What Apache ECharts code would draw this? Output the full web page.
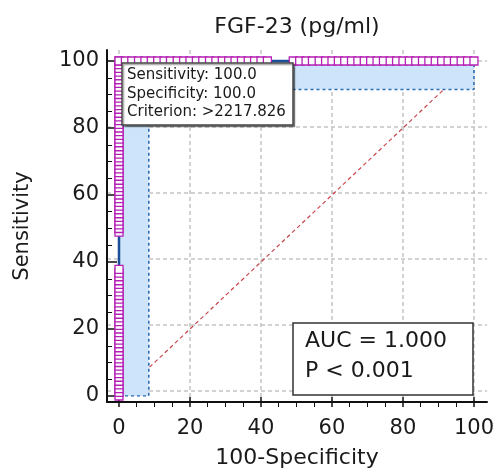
<!DOCTYPE html>
<html>
<head>
<meta charset="utf-8">
<script src="https://cdn.jsdelivr.net/npm/echarts@6/dist/echarts.min.js"></script>
<style>html,body{margin:0;padding:0;background:#fff}#c{width:497px;height:474px}</style>
</head>
<body>
<div id="c"></div>
<script>
// ROC points: sensitivity values at 100-Specificity = 0
const sensLow = [0,1.1,2.2,3.3,4.4,5.6,6.7,7.8,8.9,10,11.1,12.2,13.3,14.4,15.6,16.7,17.8,18.9,20,21.1,22.2,23.3,24.4,25.6,26.7,27.8,28.9,30,31.1,32.2,33.3,34.4,35.6,36.7,37.8];
const sensHigh = [48.9,50,51.1,52.2,53.3,54.4,55.6,56.7,57.8,58.9,60,61.1,62.2,63.3,64.4,65.6,66.7,67.8,68.9,70,71.1,72.2,73.3,74.4,75.6,76.7,77.8,78.9,80,81.1,82.2,83.3,84.4,85.6,86.7,87.8,88.9,90,91.1,92.2,93.3,94.4,95.6,96.7,97.8,98.9,100];
// ROC points: 100-Specificity values at sensitivity = 100
const fprLow = [0,1.8,3.6,5.5,7.3,9.1,10.9,12.7,14.5,16.4,18.2,20,21.8,23.6,25.5,27.3,29.1,30.9,32.7,34.5,36.4,38.2,40,41.8];
const fprHigh = [49.1,50.9,52.7,54.5,56.4,58.2,60,61.8,63.6,65.5,67.3,69.1,70.9,72.7,74.5,76.4,78.2,80,81.8,83.6,85.5,87.3,89.1,90.9,92.7,94.5,96.4,98.2,100];
// confidence bounds
const ciLowerX = [0, 8.4, 8.4, 100, 100];
const ciLowerY = [0, 0, 91.5, 91.5, 100];
const ciUpperX = [0, 0, 100];
const ciUpperY = [0, 100, 100];
// reference diagonal
const refX = [0, 100];
const refY = [0, 100];
// ticks
const majorTicks = [0, 20, 40, 60, 80, 100];
const titleText = 'FGF-23 (pg/ml)';
const xName = '100-Specificity';
const yName = 'Sensitivity';
const infoLines = ['Sensitivity: 100.0', 'Specificity: 100.0', 'Criterion: >2217.826'];
const aucLines = ['AUC = 1.000', 'P < 0.001'];

const FONT = '"DejaVu Sans", Verdana, sans-serif';
const rocPts = []
  .concat(sensLow.map(v => [0, v]))
  .concat(sensHigh.map(v => [0, v]))
  .concat(fprLow.map(v => [v, 100]))
  .concat(fprHigh.map(v => [v, 100]));
const lowerPts = ciLowerX.map((x, i) => [x, ciLowerY[i]]);
const upperPts = ciUpperX.map((x, i) => [x, ciUpperY[i]]);
const refPts = refX.map((x, i) => [x, refY[i]]);

// outer frame (axis lines extend a little beyond the data range)
const XMIN = -3.38, XMAX = 103.66, YMIN = -3.28, YMAX = 103.28;
const gridLine = {show: true, lineStyle: {color: '#c4c4c4', width: 1.5, type: [4, 3]}};
const tickStyle = {color: '#111', width: 1.5};

const chart = echarts.init(document.getElementById('c'), null, {renderer: 'canvas'});
chart.setOption({
  animation: false,
  backgroundColor: '#fff',
  grid: [
    {left: 107, right: 10, top: 50, bottom: 67},
    {left: 119, right: 23, top: 61, bottom: 78}
  ],
  xAxis: [{
    gridIndex: 0, type: 'value', min: XMIN, max: XMAX, position: 'bottom',
    name: xName, nameLocation: 'middle', nameGap: 45,
    nameTextStyle: {fontFamily: FONT, fontSize: 22, color: '#1a1a1a'},
    axisLine: {show: true, onZero: false, lineStyle: {color: '#111', width: 2}},
    axisTick: {show: false, customValues: majorTicks},
    axisLabel: {show: false, customValues: majorTicks},
    splitLine: gridLine
  }, {
    gridIndex: 1, type: 'value', min: 0, max: 100, interval: 20, position: 'bottom', offset: 11,
    axisLine: {show: false, onZero: false},
    axisTick: {show: true, inside: true, length: 10, lineStyle: tickStyle},
    minorTick: {show: true, splitNumber: 4, length: 4, lineStyle: {color: '#111', width: 1}},
    axisLabel: {show: true, margin: 11, fontFamily: FONT, fontSize: 21, color: '#1a1a1a'},
    splitLine: {show: false}
  }],
  yAxis: [{
    gridIndex: 0, type: 'value', min: YMIN, max: YMAX, position: 'left',
    name: yName, nameLocation: 'middle', nameGap: 74, nameRotate: 90,
    nameTextStyle: {fontFamily: FONT, fontSize: 21, color: '#1a1a1a'},
    axisLine: {show: true, onZero: false, lineStyle: {color: '#111', width: 2}},
    axisTick: {show: false, customValues: majorTicks},
    axisLabel: {show: false, customValues: majorTicks},
    splitLine: gridLine
  }, {
    gridIndex: 1, type: 'value', min: 0, max: 100, interval: 20, position: 'left', offset: 12,
    axisLine: {show: false, onZero: false},
    axisTick: {show: true, inside: true, length: 10, lineStyle: tickStyle},
    minorTick: {show: true, splitNumber: 4, length: 5, lineStyle: {color: '#111', width: 1}},
    axisLabel: {show: true, margin: 8, fontFamily: FONT, fontSize: 21, color: '#1a1a1a'},
    splitLine: {show: false}
  }],
  series: [{
    type: 'line', xAxisIndex: 1, yAxisIndex: 1, data: refPts, z: 2, symbol: 'none', silent: true,
    lineStyle: {color: '#c8454a', width: 1.2, type: [4, 3]}
  }, {
    type: 'custom', xAxisIndex: 1, yAxisIndex: 1, z: 3, silent: true,
    data: [[0, 0]], encode: {x: 0, y: 1},
    renderItem: function (params, api) {
      const poly = upperPts.concat(lowerPts.slice().reverse()).map(p => api.coord(p));
      return {type: 'polygon', shape: {points: poly}, style: {fill: '#cde4fa', stroke: null}};
    }
  }, {
    type: 'line', xAxisIndex: 1, yAxisIndex: 1, data: lowerPts, z: 4, symbol: 'none', silent: true,
    lineStyle: {color: '#2f6db3', width: 1.6, type: [3, 3]}
  }, {
    type: 'line', xAxisIndex: 1, yAxisIndex: 1, data: rocPts, z: 5, silent: true, clip: false,
    showAllSymbol: true, symbol: 'rect', symbolSize: 8,
    lineStyle: {color: '#1b4f9c', width: 2.5},
    itemStyle: {color: '#ffffff', borderColor: '#b520b5', borderWidth: 1.3}
  }],
  graphic: [{
    type: 'text', z: 20,
    style: {text: titleText, x: 297, y: 27, align: 'center', verticalAlign: 'middle', font: '22px ' + FONT, fill: '#1a1a1a'}
  }, {
    type: 'rect', z: 20,
    shape: {x: 122, y: 63, width: 171, height: 62},
    style: {fill: '#fff', stroke: '#444', lineWidth: 1.5, shadowColor: 'rgba(0,0,0,0.35)', shadowOffsetX: 1.5, shadowOffsetY: 1.5, shadowBlur: 1}
  }, {
    type: 'text', z: 21,
    style: {text: infoLines.join('\n'), x: 127, y: 66, lineHeight: 18.5, font: '15px ' + FONT, fill: '#1a1a1a'}
  }, {
    type: 'rect', z: 20,
    shape: {x: 293, y: 323, width: 180, height: 72},
    style: {fill: '#fff', stroke: '#333', lineWidth: 1.5}
  }, {
    type: 'text', z: 21,
    style: {text: aucLines.join('\n'), x: 305, y: 326, lineHeight: 30, font: '22px ' + FONT, fill: '#1a1a1a'}
  }]
});
</script>
</body>
</html>
